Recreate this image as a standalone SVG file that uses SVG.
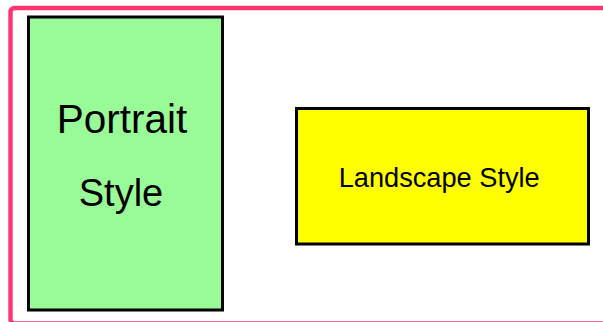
<svg xmlns="http://www.w3.org/2000/svg" width="603" height="322" viewBox="0 0 603 322">
<style>
.frame{fill:none;stroke:#ff3371;stroke-width:4.4}
.node{stroke:#000;stroke-width:3}
.lbl{font-family:"Liberation Sans",Arial,sans-serif;fill:#000;text-anchor:middle}
</style>
<rect width="603" height="322" fill="#fff"/>
<rect id="frame" class="frame" x="10.5" y="8" width="620" height="315.5" rx="4"/>
<g id="portrait">
<rect class="node" x="28.5" y="17" width="194" height="293" fill="#98fb98"/>
<text class="lbl" x="122" y="133.3" font-size="40.5">Portrait</text>
<text class="lbl" x="121" y="206" font-size="38">Style</text>
</g>
<g id="landscape">
<rect class="node" x="296.5" y="108.5" width="292" height="135.5" fill="#ffff00"/>
<text class="lbl" x="439.2" y="186.7" font-size="27.2">Landscape Style</text>
</g>
<g id="connectors"></g>
</svg>
